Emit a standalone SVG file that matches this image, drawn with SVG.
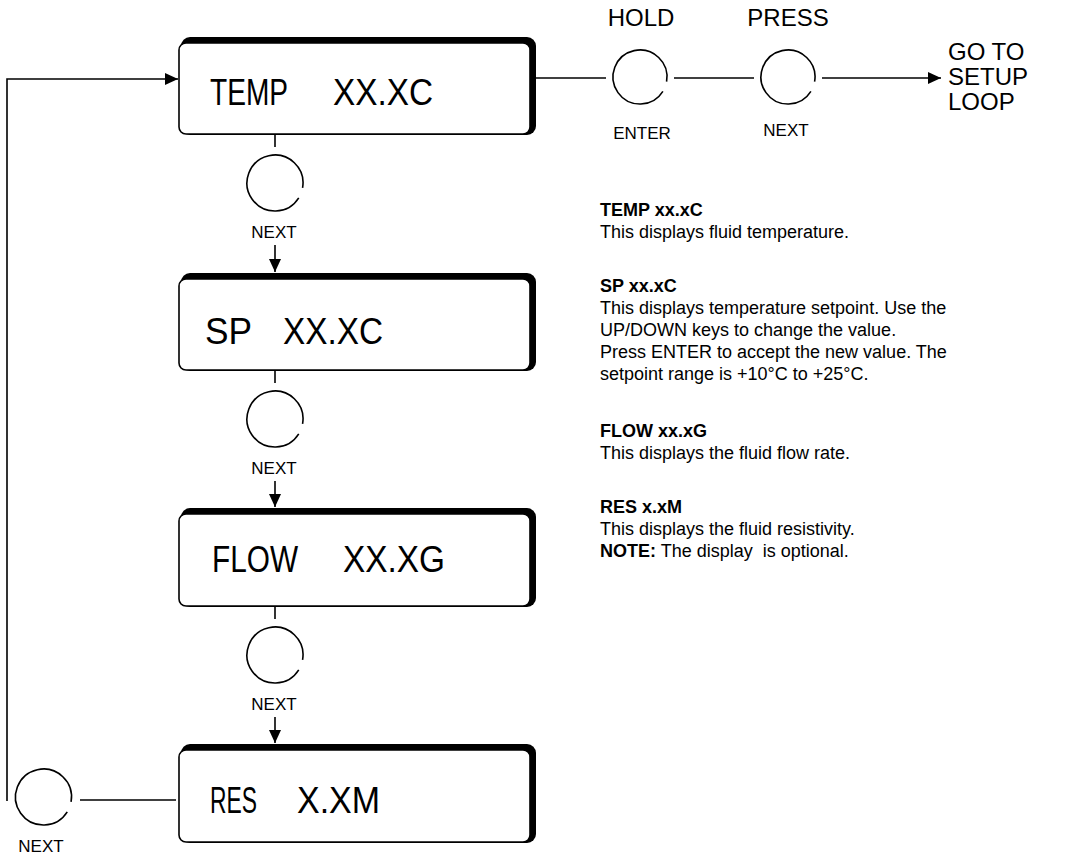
<svg xmlns="http://www.w3.org/2000/svg" xmlns:xlink="http://www.w3.org/1999/xlink" width="1087" height="856" viewBox="0 0 1087 856">
<style>
.shadow{fill:#000}
.face{fill:#fff;stroke:#000;stroke-width:1.6}
.lcd{font-family:"Liberation Sans",Arial,sans-serif;font-size:36px;fill:#000}
.lbl{font-family:"Liberation Sans",Arial,sans-serif;font-size:17px;fill:#000}
.big{font-family:"Liberation Sans",Arial,sans-serif;font-size:24px;fill:#000}
.desc{font-family:"Liberation Sans",Arial,sans-serif;font-size:18px;fill:#000}
.hd{font-weight:bold}
.ln{fill:none;stroke:#000;stroke-width:1.6}
.btn{fill:none;stroke:#000;stroke-width:1.6}
</style>
<defs>
<marker id="ah" markerUnits="userSpaceOnUse" markerWidth="14" markerHeight="12" refX="13" refY="6" orient="auto">
<path d="M0,0 L13,6 L0,12 Z" fill="#000"/>
</marker>
<path id="b28" class="btn" d="M23.75,14.84 A28,28 0 1 1 27.57,4.86"/>
<path id="b27" class="btn" d="M22.9,14.3 A27,27 0 1 1 26.59,4.69"/>
</defs>

<g id="connectors">
<line class="ln" x1="275" y1="135" x2="275" y2="147"/>
<line class="ln" x1="275" y1="245" x2="275" y2="272" marker-end="url(#ah)"/>
<line class="ln" x1="275" y1="371" x2="275" y2="383"/>
<line class="ln" x1="275" y1="481" x2="275" y2="507" marker-end="url(#ah)"/>
<line class="ln" x1="275" y1="607" x2="275" y2="619"/>
<line class="ln" x1="275" y1="717" x2="275" y2="743" marker-end="url(#ah)"/>
<line class="ln" x1="176" y1="800" x2="80" y2="800"/>
<polyline class="ln" points="7,801 7,79 178,79" marker-end="url(#ah)"/>
<line class="ln" x1="536" y1="78" x2="606" y2="78"/>
<line class="ln" x1="674" y1="78" x2="754" y2="78"/>
<line class="ln" x1="822" y1="78" x2="941" y2="78" marker-end="url(#ah)"/>
</g>

<g id="node-temp">
<rect class="shadow" x="181" y="37" width="355" height="98" rx="9"/>
<rect class="face" x="179" y="43" width="351" height="91" rx="7"/>
<text class="lcd" x="210" y="105" textLength="78" lengthAdjust="spacingAndGlyphs">TEMP</text>
<text class="lcd" x="333" y="105" textLength="100" lengthAdjust="spacingAndGlyphs">XX.XC</text>
</g>

<g id="node-sp">
<rect class="shadow" x="181" y="273" width="355" height="98" rx="9"/>
<rect class="face" x="179" y="279" width="351" height="91" rx="7"/>
<text class="lcd" x="205" y="344" textLength="47" lengthAdjust="spacingAndGlyphs">SP</text>
<text class="lcd" x="283" y="344" textLength="100" lengthAdjust="spacingAndGlyphs">XX.XC</text>
</g>

<g id="node-flow">
<rect class="shadow" x="181" y="508" width="355" height="99" rx="9"/>
<rect class="face" x="179" y="514" width="351" height="92" rx="7"/>
<text class="lcd" x="212" y="572" textLength="86" lengthAdjust="spacingAndGlyphs">FLOW</text>
<text class="lcd" x="343" y="572" textLength="102" lengthAdjust="spacingAndGlyphs">XX.XG</text>
</g>

<g id="node-res">
<rect class="shadow" x="181" y="744" width="355" height="99" rx="9"/>
<rect class="face" x="179" y="750" width="351" height="92" rx="7"/>
<text class="lcd" x="210" y="813" textLength="47" lengthAdjust="spacingAndGlyphs">RES</text>
<text class="lcd" x="297" y="813" textLength="83" lengthAdjust="spacingAndGlyphs">X.XM</text>
</g>

<g id="btn-next-1">
<use xlink:href="#b28" x="275" y="183"/>
<text class="lbl" x="274" y="238" text-anchor="middle">NEXT</text>
</g>
<g id="btn-next-2">
<use xlink:href="#b28" x="275" y="419"/>
<text class="lbl" x="274" y="474" text-anchor="middle">NEXT</text>
</g>
<g id="btn-next-3">
<use xlink:href="#b28" x="275" y="655"/>
<text class="lbl" x="274" y="710" text-anchor="middle">NEXT</text>
</g>
<g id="btn-next-4">
<use xlink:href="#b28" x="43.5" y="797"/>
<text class="lbl" x="41" y="852" text-anchor="middle">NEXT</text>
</g>
<g id="btn-enter">
<text class="big" x="641" y="26" text-anchor="middle">HOLD</text>
<use xlink:href="#b27" x="640" y="77"/>
<text class="lbl" x="642" y="139" text-anchor="middle">ENTER</text>
</g>
<g id="btn-next-top">
<text class="big" x="788" y="26" text-anchor="middle">PRESS</text>
<use xlink:href="#b27" x="788" y="77"/>
<text class="lbl" x="786" y="136" text-anchor="middle">NEXT</text>
</g>
<g id="goto">
<text class="big" x="948" y="60" font-size="21">GO TO</text>
<text class="big" x="948" y="85" font-size="21">SETUP</text>
<text class="big" x="948" y="110" font-size="21">LOOP</text>
</g>

<g id="description">
<text class="desc hd" x="600" y="216">TEMP xx.xC</text>
<text class="desc" x="600" y="238">This displays fluid temperature.</text>
<text class="desc hd" x="600" y="292">SP xx.xC</text>
<text class="desc" x="600" y="314">This displays temperature setpoint. Use the</text>
<text class="desc" x="600" y="336">UP/DOWN keys to change the value.</text>
<text class="desc" x="600" y="358">Press ENTER to accept the new value. The</text>
<text class="desc" x="600" y="380">setpoint range is +10°C to +25°C.</text>
<text class="desc hd" x="600" y="437">FLOW xx.xG</text>
<text class="desc" x="600" y="459">This displays the fluid flow rate.</text>
<text class="desc hd" x="600" y="513">RES x.xM</text>
<text class="desc" x="600" y="535">This displays the fluid resistivity.</text>
<text class="desc" x="600" y="557" style="white-space:pre"><tspan font-weight="bold">NOTE:</tspan> The display  is optional.</text>
</g>
</svg>
